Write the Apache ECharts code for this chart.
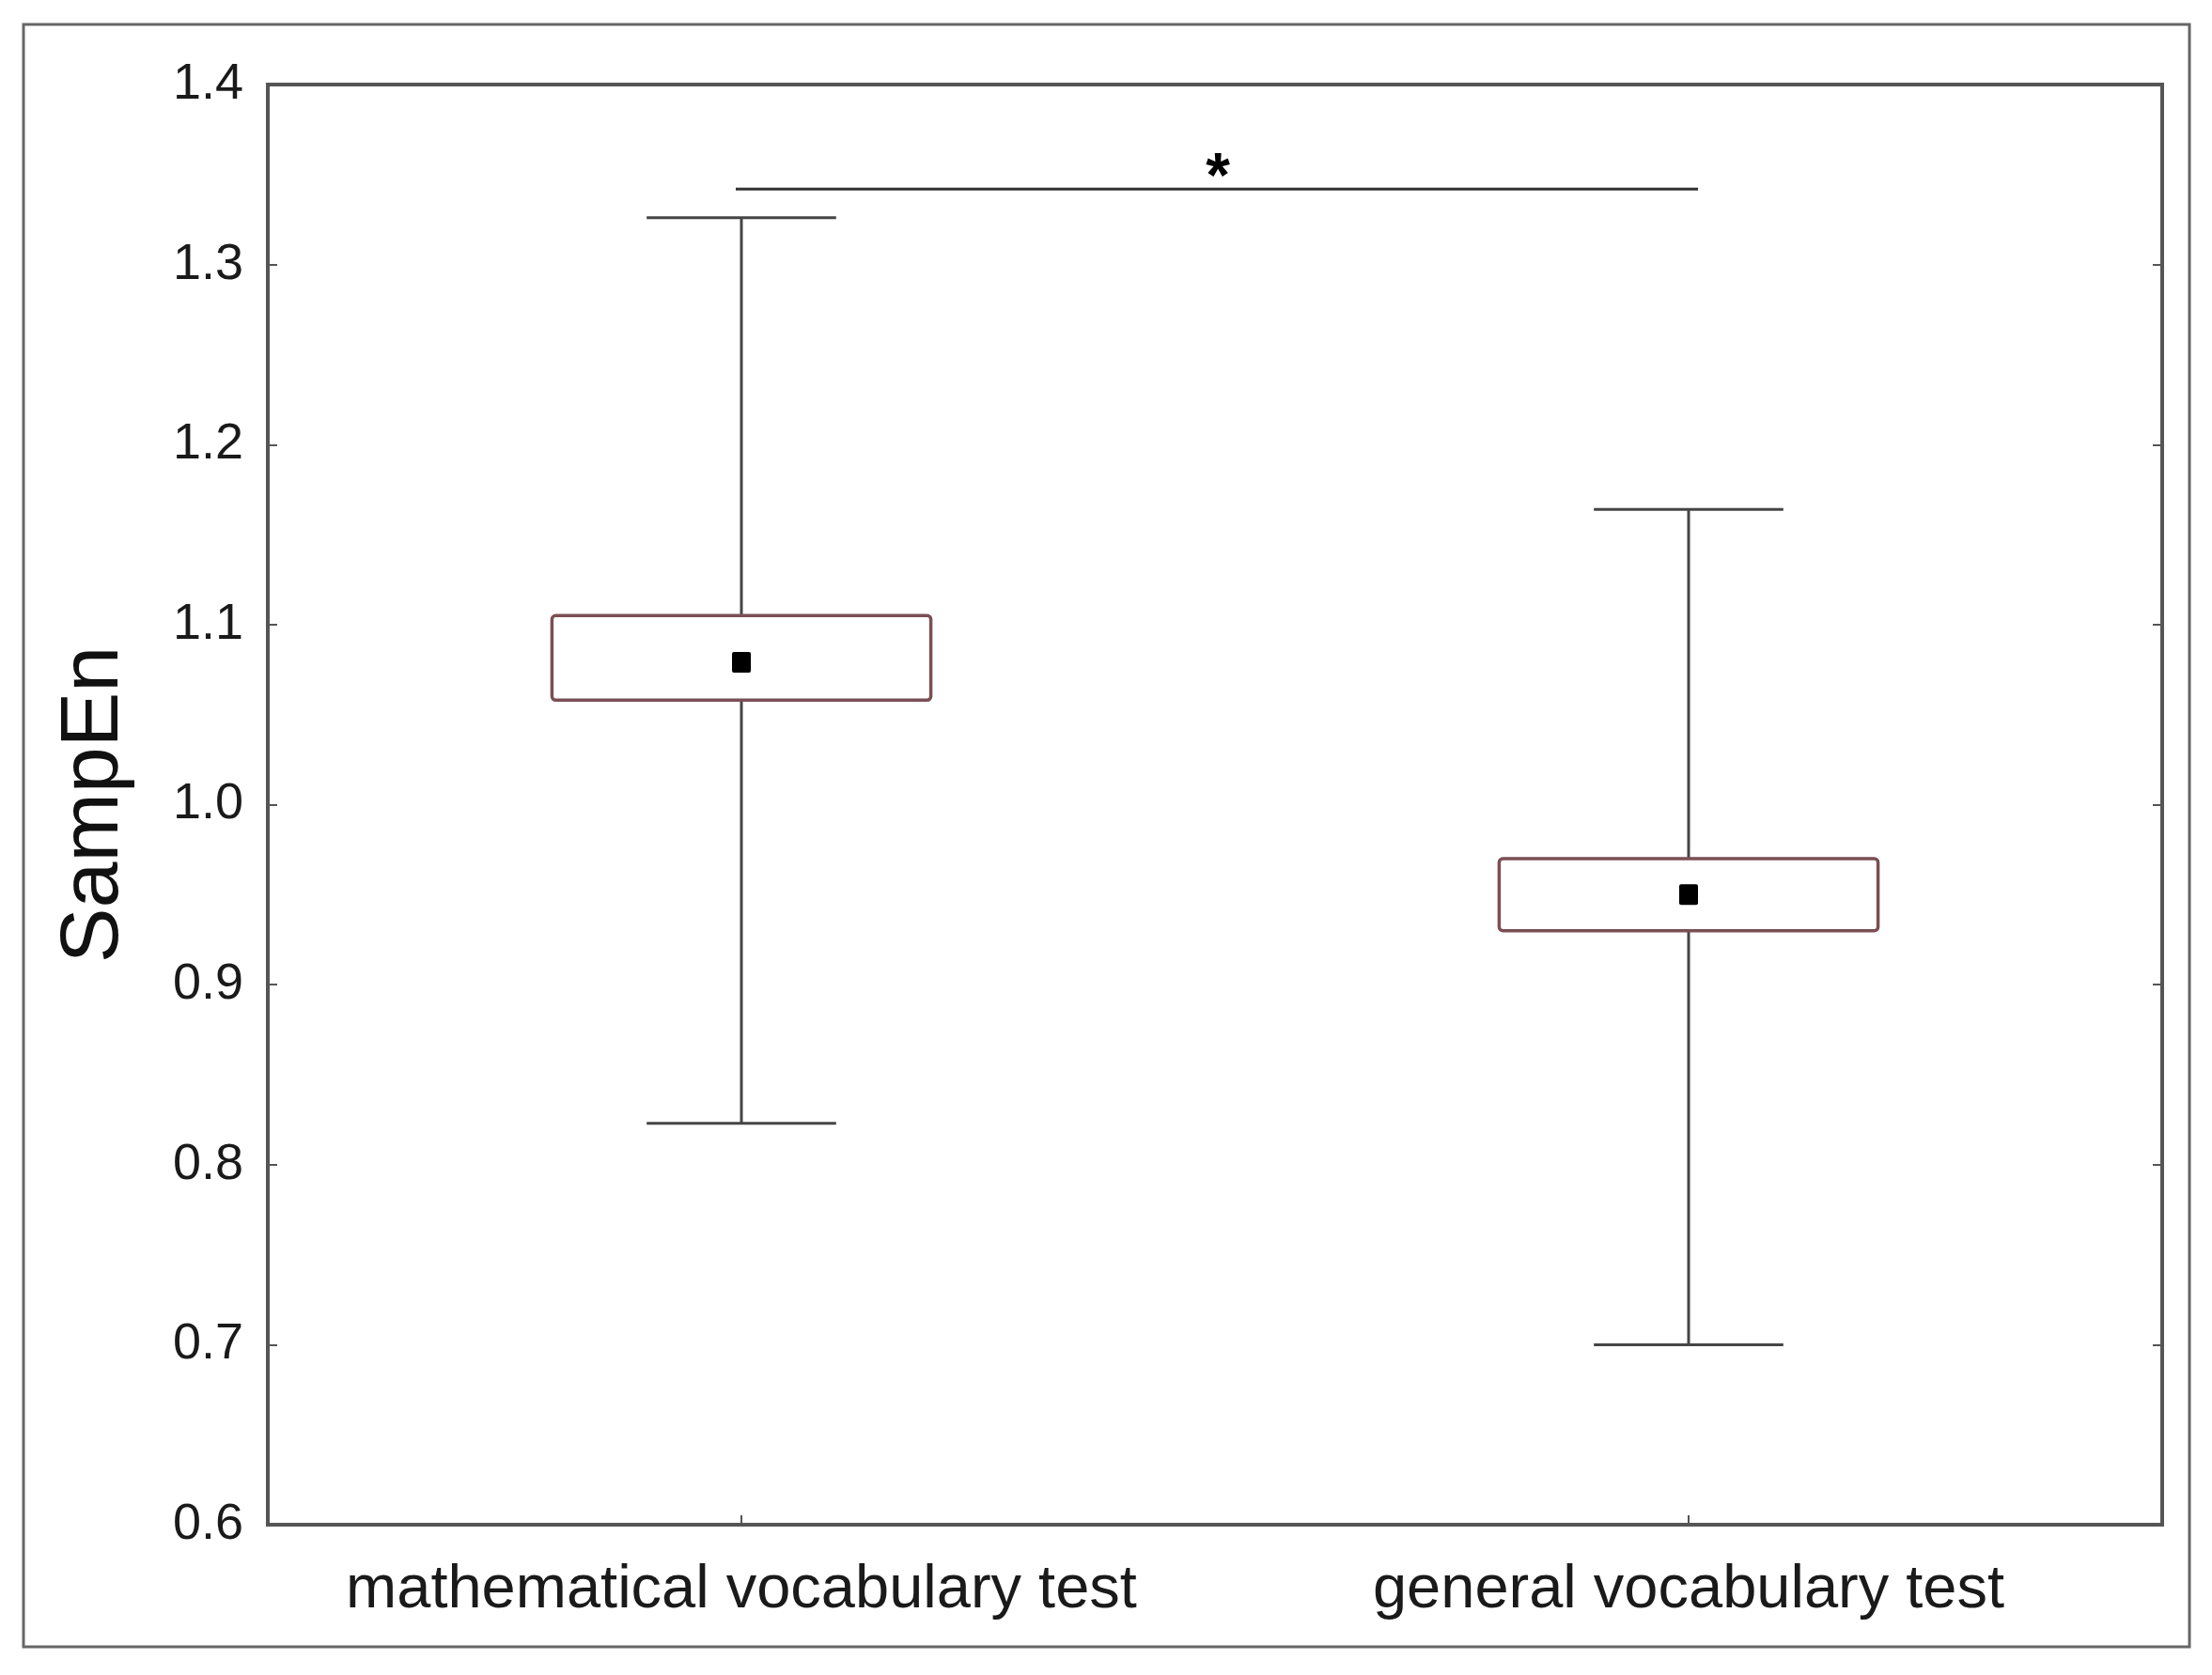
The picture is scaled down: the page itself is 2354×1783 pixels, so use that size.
<!DOCTYPE html>
<html>
<head>
<meta charset="utf-8">
<script src="https://cdn.jsdelivr.net/npm/echarts@6/dist/echarts.min.js"></script>
<style>
  html, body { margin: 0; padding: 0; background: #fff; }
  #chart { width: 2354px; height: 1783px; }
</style>
</head>
<body>
<div id="chart"></div>
<script>
  // groups on the x axis
  var categories = ['mathematical vocabulary test', 'general vocabulary test'];
  // whisker ends, box edges and mean per group
  var whiskerLow = [0.823, 0.700];
  var boxLow = [1.058, 0.930];
  var means = [1.079, 0.950];
  var boxHigh = [1.105, 0.970];
  var whiskerHigh = [1.326, 1.164];
  // y ticks
  var yTicks = [0.6, 0.7, 0.8, 0.9, 1.0, 1.1, 1.2, 1.3, 1.4];
  // significance bar between the two groups
  var sigPair = [0, 1];
  var sigLevel = 1.342;
  var sigText = '*';

  var chart = echarts.init(document.getElementById('chart'));

  var boxData = categories.map(function (c, i) {
    return [i, whiskerLow[i], boxLow[i], means[i], boxHigh[i], whiskerHigh[i]];
  });

  function renderBox(params, api) {
    var x = api.value(0);
    var band = api.size([1, 0])[0];
    var pLow = api.coord([x, api.value(1)]);
    var pBoxLow = api.coord([x, api.value(2)]);
    var pMean = api.coord([x, api.value(3)]);
    var pBoxHigh = api.coord([x, api.value(4)]);
    var pHigh = api.coord([x, api.value(5)]);
    var boxW = band * 0.4;
    var capW = band * 0.2;
    var cx = pLow[0];
    var lineStyle = { stroke: '#454545', lineWidth: 3 };
    return {
      type: 'group',
      children: [
        { type: 'line', shape: { x1: cx, y1: pLow[1], x2: cx, y2: pHigh[1] }, style: lineStyle },
        { type: 'line', shape: { x1: cx - capW / 2, y1: pLow[1], x2: cx + capW / 2, y2: pLow[1] }, style: lineStyle },
        { type: 'line', shape: { x1: cx - capW / 2, y1: pHigh[1], x2: cx + capW / 2, y2: pHigh[1] }, style: lineStyle },
        {
          type: 'rect',
          shape: { x: cx - boxW / 2, y: pBoxHigh[1], width: boxW, height: pBoxLow[1] - pBoxHigh[1], r: 4 },
          style: { fill: '#fff', stroke: '#7a4f54', lineWidth: 3.5 }
        },
        {
          type: 'rect',
          shape: { x: cx - 10, y: pMean[1] - 11, width: 20, height: 22, r: 2 },
          style: { fill: '#000' }
        }
      ]
    };
  }

  function renderSig(params, api) {
    var y = api.value(2);
    var p1 = api.coord([api.value(0), y]);
    var p2 = api.coord([api.value(1), y]);
    return {
      type: 'group',
      children: [
        { type: 'line', shape: { x1: p1[0] - 6, y1: p1[1], x2: p2[0] + 10, y2: p2[1] }, style: { stroke: '#333', lineWidth: 3 } },
        {
          type: 'text',
          style: {
            text: sigText, x: (p1[0] + p2[0]) / 2 + 3, y: p1[1] + 23,
            fill: '#000', font: 'bold 66px "Liberation Sans", Arial, sans-serif',
            align: 'center', verticalAlign: 'bottom'
          }
        }
      ]
    };
  }

  var option = {
    backgroundColor: '#fff',
    animation: false,
    textStyle: { fontFamily: '"Liberation Sans", Arial, sans-serif' },
    graphic: [{
      type: 'rect',
      shape: { x: 25, y: 26, width: 2305, height: 1727 },
      style: { fill: 'none', stroke: '#666', lineWidth: 3 },
      silent: true
    }],
    grid: {
      left: 285, right: 53, top: 90, bottom: 160,
      show: true, borderColor: '#555', borderWidth: 4, backgroundColor: 'transparent'
    },
    xAxis: {
      type: 'category',
      data: categories,
      boundaryGap: true,
      axisLine: { show: true, lineStyle: { color: '#555', width: 4 } },
      axisTick: { show: true, inside: true, alignWithLabel: true, length: 10, lineStyle: { color: '#555', width: 2 } },
      axisLabel: { color: '#1a1a1a', fontSize: 65, margin: 38, interval: 0 },
      splitLine: { show: false }
    },
    yAxis: [{
      type: 'value',
      min: 0.6, max: 1.4, interval: 0.1,
      name: 'SampEn',
      nameLocation: 'middle',
      nameGap: 140,
      nameTextStyle: { color: '#111', fontSize: 88 },
      axisLine: { show: true, lineStyle: { color: '#555', width: 4 } },
      axisTick: { show: true, inside: true, length: 10, lineStyle: { color: '#555', width: 2 } },
      axisLabel: {
        color: '#1a1a1a', fontSize: 54, margin: 26,
        formatter: function (v) { return yTicks.indexOf(Math.round(v * 10) / 10) >= 0 ? v.toFixed(1) : ''; }
      },
      splitLine: { show: false }
    }, {
      type: 'value',
      position: 'right',
      min: 0.6, max: 1.4, interval: 0.1,
      axisLine: { show: true, lineStyle: { color: '#555', width: 4 } },
      axisTick: { show: true, inside: true, length: 10, lineStyle: { color: '#555', width: 2 } },
      axisLabel: { show: false },
      splitLine: { show: false }
    }],
    series: [{
      type: 'custom',
      renderItem: renderBox,
      encode: { x: 0, y: [1, 5] },
      data: boxData,
      z: 5
    }, {
      type: 'custom',
      renderItem: renderSig,
      encode: { x: [0, 1], y: 2 },
      data: [[sigPair[0], sigPair[1], sigLevel]],
      z: 6
    }]
  };

  chart.setOption(option);
</script>
</body>
</html>
